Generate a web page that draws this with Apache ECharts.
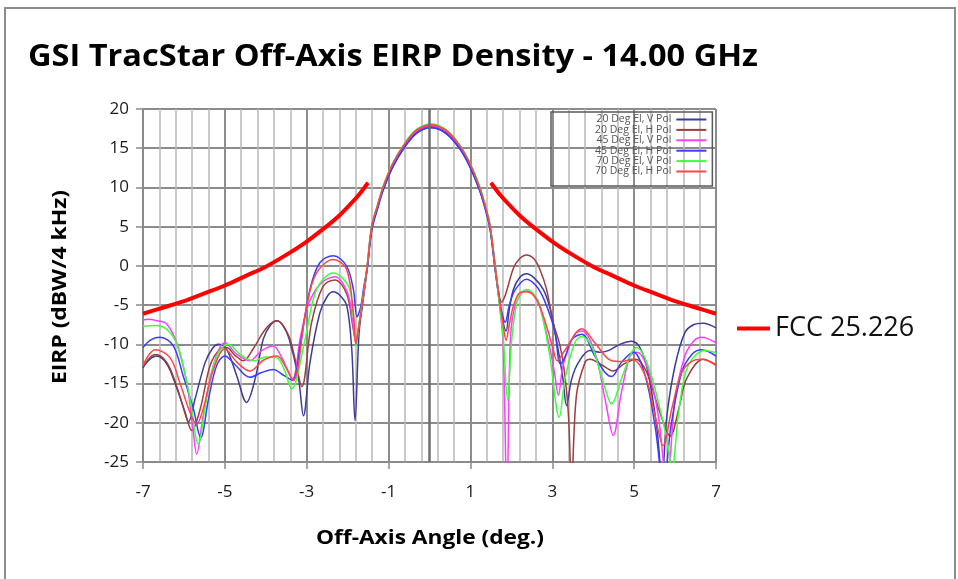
<!DOCTYPE html>
<html><head><meta charset="utf-8">
<script src="https://cdn.jsdelivr.net/npm/echarts@6/dist/echarts.min.js"></script>
<style>html,body{margin:0;padding:0;background:#fff}#c{width:958px;height:579px}</style>
</head><body><div id="c"></div>
<script>
const FONT = '"Open Sans", "Noto Sans", sans-serif';
const titleText = 'GSI TracStar Off-Axis EIRP Density - 14.00 GHz';
const xTitle = 'Off-Axis Angle (deg.)';
const yTitle = 'EIRP (dBW/4 kHz)';
const xRange = [-7, 7, 2];
const yRange = [-25, 20, 5];
const seriesNames = ['20 Deg El, V Pol','20 Deg El, H Pol','45 Deg El, V Pol','45 Deg El, H Pol','70 Deg El, V Pol','70 Deg El, H Pol'];
const seriesColors = ['#3b3b9b','#a03c3c','#ff3cff','#3c3cff','#3cff3c','#ff4646'];
const fccName = 'FCC 25.226';

const fccLeft = [[-7,-6.1],[-6.5,-5.3],[-6,-4.5],[-5.5,-3.5],[-5,-2.5],[-4.5,-1.3],[-4,-0.1],[-3.5,1.4],[-3,3.1],[-2.5,5.1],[-2.25,6.2],[-2,7.5],[-1.75,8.9],[-1.5,10.6]];
const fccRight = [[1.5,10.6],[1.75,8.9],[2,7.5],[2.25,6.2],[2.5,5.1],[3,3.1],[3.5,1.4],[4,-0.1],[4.5,-1.3],[5,-2.5],[5.5,-3.5],[6,-4.5],[6.5,-5.3],[7,-6.1]];

const el20V = [[-7,-13.0],[-6.85,-12.0],[-6.67,-11.5],[-6.42,-12.5],[-6.18,-15.5],[-5.97,-18.7],[-5.89,-19.9],[-5.73,-17.0],[-5.48,-12.3],[-5.3,-10.5],[-5.16,-10.0],[-4.96,-10.6],[-4.71,-14.0],[-4.47,-17.4],[-4.26,-14.4],[-4.06,-9.3],[-3.88,-7.5],[-3.73,-7.0],[-3.58,-7.6],[-3.43,-9.3],[-3.2,-14.4],[-3.08,-19.1],[-2.92,-12.3],[-2.68,-6.0],[-2.5,-3.9],[-2.35,-3.3],[-2.18,-3.8],[-2.02,-5.1],[-1.9,-10.6],[-1.82,-19.7],[-1.72,-8.5],[-1.62,-4.3],[-1.52,-0.3],[-1.41,4.6],[-1.27,7.3],[-1.13,9.7],[-0.9,12.6],[-0.64,14.9],[-0.32,16.9],[0.04,17.6],[0.4,16.9],[0.745,14.9],[1.0,12.5],[1.22,9.7],[1.36,7.3],[1.48,4.7],[1.6,-0.3],[1.7,-4.2],[1.8,-7.2],[1.87,-8.3],[1.95,-5.5],[2.05,-3.0],[2.2,-1.5],[2.37,-1.0],[2.55,-1.5],[2.78,-3.0],[2.95,-5.5],[3.1,-9.4],[3.25,-14.0],[3.35,-17.8],[3.47,-14.5],[3.64,-12.3],[3.92,-10.8],[4.15,-11.0],[4.37,-10.8],[4.65,-10.0],[4.94,-9.6],[5.15,-10.5],[5.34,-13.6],[5.55,-20.4],[5.68,-27.0],[5.8,-19.1],[6.0,-12.7],[6.24,-8.5],[6.45,-7.5],[6.69,-7.3],[7,-7.9]];
const el20H = [[-7,-12.9],[-6.85,-11.8],[-6.7,-11.3],[-6.42,-12.3],[-6.18,-15.3],[-5.93,-19.5],[-5.81,-21.0],[-5.6,-18.2],[-5.36,-12.7],[-5.12,-10.6],[-4.96,-10.4],[-4.75,-11.4],[-4.55,-12.1],[-4.3,-10.5],[-4.0,-8.0],[-3.73,-7.0],[-3.45,-8.8],[-3.28,-12.0],[-3.12,-15.4],[-2.88,-7.2],[-2.6,-2.6],[-2.31,-1.8],[-2.02,-3.6],[-1.88,-7.5],[-1.8,-9.5],[-1.72,-7.5],[-1.62,-4.0],[-1.52,0.0],[-1.41,5.0],[-1.27,7.6],[-1.13,10.0],[-0.9,12.9],[-0.64,15.1],[-0.32,17.1],[0.04,17.8],[0.4,17.1],[0.745,15.1],[1.0,12.8],[1.22,10.0],[1.36,7.6],[1.48,5.0],[1.6,0.2],[1.68,-3.0],[1.76,-4.6],[1.86,-3.6],[2.05,-0.3],[2.2,0.9],[2.37,1.4],[2.55,0.9],[2.7,-0.5],[2.86,-3.0],[3.02,-7.2],[3.19,-10.2],[3.32,-14.5],[3.4,-19.5],[3.47,-28.0],[3.59,-16.5],[3.8,-12.3],[3.92,-11.9],[4.2,-12.6],[4.49,-13.4],[4.75,-12.5],[5.04,-11.9],[5.3,-13.5],[5.63,-18.7],[5.88,-21.7],[6.1,-18.0],[6.28,-14.4],[6.69,-11.9],[7,-12.6]];
const el45V = [[-7,-6.9],[-6.88,-6.8],[-6.65,-7.0],[-6.42,-7.4],[-6.18,-9.8],[-5.93,-14.9],[-5.77,-21.2],[-5.69,-24.0],[-5.53,-19.1],[-5.28,-12.7],[-5.0,-9.8],[-4.7,-11.3],[-4.39,-12.1],[-4.1,-10.8],[-3.82,-10.2],[-3.6,-11.8],[-3.35,-14.4],[-3.15,-9.0],[-2.95,-4.8],[-2.65,-2.2],[-2.31,-1.4],[-2.0,-3.5],[-1.88,-7.0],[-1.8,-9.8],[-1.72,-7.5],[-1.62,-4.0],[-1.52,0.0],[-1.41,5.0],[-1.27,7.6],[-1.13,10.0],[-0.9,12.9],[-0.64,15.2],[-0.32,17.2],[0.04,17.9],[0.4,17.2],[0.745,15.2],[1.0,12.8],[1.22,10.0],[1.36,7.6],[1.48,5.0],[1.6,0.0],[1.7,-4.5],[1.8,-10.0],[1.89,-30.0],[1.97,-10.0],[2.05,-6.0],[2.2,-3.8],[2.37,-3.2],[2.55,-3.8],[2.7,-5.3],[2.94,-10.5],[3.05,-13.5],[3.15,-16.5],[3.25,-13.0],[3.39,-10.6],[3.55,-8.7],[3.72,-8.3],[4.04,-11.0],[4.29,-17.0],[4.49,-21.6],[4.69,-16.1],[4.9,-11.5],[5.06,-11.0],[5.34,-13.2],[5.59,-19.1],[5.8,-28.0],[6.0,-17.0],[6.24,-11.5],[6.45,-9.6],[6.65,-9.1],[7,-9.8]];
const el45H = [[-7,-10.4],[-6.8,-9.4],[-6.58,-9.1],[-6.26,-10.2],[-6.02,-14.0],[-5.77,-18.2],[-5.59,-21.9],[-5.4,-17.0],[-5.2,-12.7],[-5.0,-11.5],[-4.75,-12.6],[-4.39,-14.2],[-4.1,-13.6],[-3.82,-13.2],[-3.55,-14.0],[-3.35,-14.6],[-3.15,-9.8],[-2.92,-3.0],[-2.68,0.4],[-2.35,1.3],[-2.03,0.0],[-1.86,-3.0],[-1.77,-6.5],[-1.68,-5.2],[-1.6,-2.5],[-1.52,-0.3],[-1.41,4.6],[-1.27,7.3],[-1.13,9.7],[-0.9,12.6],[-0.64,14.9],[-0.32,16.9],[0.04,17.6],[0.4,16.9],[0.745,14.9],[1.0,12.5],[1.22,9.7],[1.36,7.3],[1.48,4.7],[1.6,-0.3],[1.7,-4.0],[1.78,-6.2],[1.85,-7.2],[1.95,-5.0],[2.1,-3.0],[2.37,-1.7],[2.6,-2.5],[2.8,-4.3],[3.05,-8.1],[3.2,-12.5],[3.32,-11.5],[3.47,-9.4],[3.72,-8.7],[4.04,-11.5],[4.29,-13.6],[4.45,-14.1],[4.69,-12.3],[4.98,-11.0],[5.27,-14.0],[5.51,-20.4],[5.72,-28.0],[5.9,-20.4],[6.16,-13.6],[6.41,-11.3],[6.65,-10.7],[7,-11.5]];
const el70V = [[-7,-7.7],[-6.67,-7.6],[-6.34,-8.5],[-6.1,-11.0],[-5.85,-17.0],[-5.65,-22.7],[-5.45,-17.0],[-5.2,-11.5],[-4.92,-10.0],[-4.6,-11.4],[-4.3,-12.1],[-4.0,-11.6],[-3.73,-11.7],[-3.55,-13.2],[-3.37,-15.7],[-3.04,-9.35],[-2.76,-3.0],[-2.35,-0.9],[-1.98,-2.6],[-1.86,-6.5],[-1.79,-10.2],[-1.72,-7.2],[-1.62,-3.8],[-1.52,0.2],[-1.41,5.2],[-1.27,7.8],[-1.13,10.2],[-0.9,13.1],[-0.64,15.4],[-0.32,17.4],[0.04,18.1],[0.4,17.4],[0.745,15.4],[1.0,13.0],[1.22,10.2],[1.36,7.8],[1.48,5.2],[1.6,0.2],[1.7,-4.5],[1.8,-9.0],[1.91,-17.2],[2.01,-9.4],[2.17,-4.0],[2.37,-3.0],[2.55,-3.6],[2.7,-5.1],[2.94,-11.5],[3.17,-19.3],[3.31,-14.4],[3.55,-9.8],[3.72,-9.0],[3.96,-10.2],[4.25,-14.9],[4.45,-17.6],[4.69,-14.4],[4.94,-11.0],[5.06,-10.4],[5.34,-12.7],[5.63,-18.2],[5.83,-22.9],[5.92,-26.0],[6.1,-18.2],[6.32,-12.7],[6.73,-10.8],[7,-11.1]];
const el70H = [[-7,-12.7],[-6.85,-11.3],[-6.7,-10.7],[-6.34,-11.7],[-6.1,-14.9],[-5.85,-18.7],[-5.69,-20.2],[-5.53,-18.2],[-5.28,-13.2],[-5.0,-10.6],[-4.7,-12.3],[-4.39,-13.4],[-4.05,-12.0],[-3.73,-11.5],[-3.5,-13.0],[-3.33,-14.6],[-3.0,-5.1],[-2.76,-0.9],[-2.35,0.8],[-2.03,-0.4],[-1.86,-6.0],[-1.8,-10.0],[-1.72,-7.5],[-1.62,-3.9],[-1.52,0.1],[-1.41,5.1],[-1.27,7.7],[-1.13,10.1],[-0.9,13.0],[-0.64,15.3],[-0.32,17.3],[0.04,18.0],[0.4,17.3],[0.745,15.3],[1.0,12.9],[1.22,10.1],[1.36,7.7],[1.48,5.1],[1.6,0.1],[1.7,-4.0],[1.8,-7.5],[1.87,-9.5],[1.95,-7.5],[2.05,-5.1],[2.21,-3.4],[2.37,-3.3],[2.62,-4.3],[2.86,-7.7],[3.02,-10.6],[3.12,-12.1],[3.25,-11.2],[3.43,-9.8],[3.6,-8.4],[3.72,-8.0],[4.04,-9.8],[4.45,-12.1],[4.7,-12.2],[4.94,-11.9],[5.27,-14.0],[5.51,-19.1],[5.71,-22.9],[5.92,-18.2],[6.16,-13.6],[6.4,-12.2],[6.65,-11.9],[7,-12.7]];
const patternData = [el20V, el20H, el45V, el45H, el70V, el70H];

// text fitting helper (layout only)
const mctx = document.createElement('canvas').getContext('2d');
function fit(text, font, target) { mctx.font = font; return target / mctx.measureText(text).width; }
const titleFont = 'bold 31px ' + FONT;
const axFont = 'bold 20px ' + FONT;

const chart = echarts.init(document.getElementById('c'), null, {renderer: 'canvas'});
const series = [
  {name: fccName, type: 'line', data: fccLeft, showSymbol: false, smooth: 0.3, lineStyle: {color: '#ff0000', width: 4}, itemStyle: {color: '#ff0000'}, z: 2,
   markLine: {silent: true, symbol: 'none', label: {show: false}, lineStyle: {color: '#6e6e6e', width: 2.5, type: 'solid'}, data: [{xAxis: 0}], animation: false}},
  {name: fccName, type: 'line', data: fccRight, showSymbol: false, smooth: 0.3, lineStyle: {color: '#ff0000', width: 4}, itemStyle: {color: '#ff0000'}, z: 2}
];
patternData.forEach((d, i) => series.push({
  name: seriesNames[i], type: 'line', data: d, showSymbol: false, smooth: 0.35,
  lineStyle: {color: seriesColors[i], width: 1.5}, itemStyle: {color: seriesColors[i]}, z: 3
}));

chart.setOption({
  animation: false,
  backgroundColor: '#ffffff',
  grid: {left: 143, right: 242, top: 109, bottom: 117, containLabel: false},
  xAxis: {type: 'value', min: xRange[0], max: xRange[1], interval: xRange[2],
    axisLine: {onZero: false, lineStyle: {color: '#8a8a8a', width: 1.5}},
    axisTick: {show: true, inside: false, length: 7, lineStyle: {color: '#8a8a8a', width: 1.5}},
    axisLabel: {margin: 22, color: '#1a1a1a', fontSize: 17, fontFamily: FONT},
    splitLine: {show: true, lineStyle: {color: '#8c8c8c', width: 2}},
    minorTick: {show: false, splitNumber: 5},
    minorSplitLine: {show: true, lineStyle: {color: '#b8b8b8', width: 1.5}}
  },
  yAxis: {type: 'value', min: yRange[0], max: yRange[1], interval: yRange[2],
    axisLine: {show: true, onZero: false, lineStyle: {color: '#8a8a8a', width: 1.5}},
    axisTick: {show: true, length: 7, lineStyle: {color: '#8a8a8a', width: 1.5}},
    axisLabel: {margin: 14, color: '#1a1a1a', fontSize: 17, fontFamily: FONT},
    splitLine: {show: true, lineStyle: {color: '#8c8c8c', width: 2}}
  },
  legend: [
    {data: seriesNames, orient: 'vertical', align: 'right', left: 551, top: 112,
     padding: [2, 6, 9, 44], itemGap: -0.6, itemWidth: 30, itemHeight: 2, icon: 'rect',
     borderColor: '#5a5a5a', borderWidth: 1.5, backgroundColor: 'transparent',
     textStyle: {fontSize: 10.5, color: '#555555', fontFamily: FONT}},
    {data: [fccName], orient: 'vertical', left: 737, top: 315, itemWidth: 33, itemHeight: 4, icon: 'rect', padding: 0,
     textStyle: {fontSize: 27, color: '#111111', fontFamily: FONT}}
  ],
  graphic: [
    {type: 'rect', shape: {x: 5, y: 8, width: 950, height: 600}, style: {fill: 'none', stroke: '#8c8c8c', lineWidth: 2}, silent: true},
    {type: 'text', x: 28, y: 57, scaleX: fit(titleText, titleFont, 730), style: {text: titleText, font: titleFont, fill: '#000', align: 'left', verticalAlign: 'middle'}},
    {type: 'text', x: 430, y: 538, scaleX: fit(xTitle, axFont, 228), style: {text: xTitle, font: axFont, fill: '#000', align: 'center', verticalAlign: 'middle'}},
    {type: 'text', x: 60, y: 287, rotation: Math.PI / 2, scaleX: fit(yTitle, axFont, 194), style: {text: yTitle, font: axFont, fill: '#000', align: 'center', verticalAlign: 'middle'}}
  ],
  series: series
});
</script>
</body></html>
